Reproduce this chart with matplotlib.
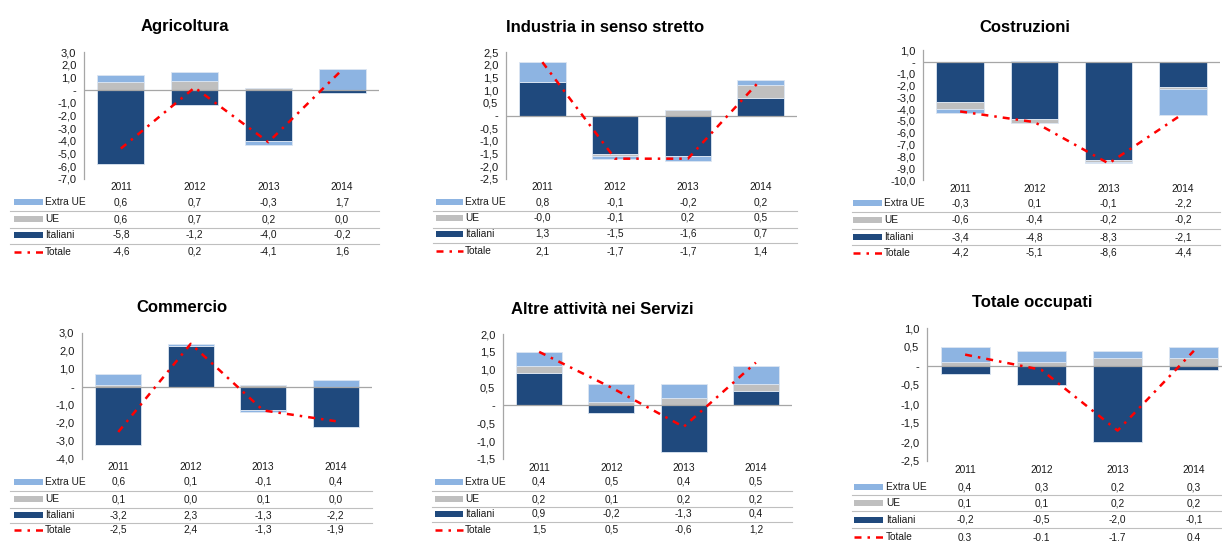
import matplotlib
matplotlib.use("Agg")
import matplotlib.pyplot as plt
from matplotlib.transforms import blended_transform_factory
from matplotlib.lines import Line2D
from matplotlib.patches import Rectangle
import numpy as np

plt.rcParams['font.family'] = ['Liberation Sans', 'DejaVu Sans']

# ---------------- data ----------------
years = ["2011", "2012", "2013", "2014"]
series_names = ["Extra UE", "UE", "Italiani", "Totale"]
titles = ["Agricoltura", "Industria in senso stretto", "Costruzioni",
          "Commercio", "Altre attività nei Servizi", "Totale occupati"]

agr_extra = [0.6, 0.7, -0.3, 1.7]
agr_ue = [0.6, 0.7, 0.2, 0.0]
agr_ita = [-5.8, -1.2, -4.0, -0.2]
agr_tot = [-4.6, 0.2, -4.1, 1.6]

ind_extra = [0.8, -0.1, -0.2, 0.2]
ind_ue = [-0.0, -0.1, 0.2, 0.5]
ind_ita = [1.3, -1.5, -1.6, 0.7]
ind_tot = [2.1, -1.7, -1.7, 1.4]

cos_extra = [-0.3, 0.1, -0.1, -2.2]
cos_ue = [-0.6, -0.4, -0.2, -0.2]
cos_ita = [-3.4, -4.8, -8.3, -2.1]
cos_tot = [-4.2, -5.1, -8.6, -4.4]

com_extra = [0.6, 0.1, -0.1, 0.4]
com_ue = [0.1, 0.0, 0.1, 0.0]
com_ita = [-3.2, 2.3, -1.3, -2.2]
com_tot = [-2.5, 2.4, -1.3, -1.9]

alt_extra = [0.4, 0.5, 0.4, 0.5]
alt_ue = [0.2, 0.1, 0.2, 0.2]
alt_ita = [0.9, -0.2, -1.3, 0.4]
alt_tot = [1.5, 0.5, -0.6, 1.2]

occ_extra = [0.4, 0.3, 0.2, 0.3]
occ_ue = [0.1, 0.1, 0.2, 0.2]
occ_ita = [-0.2, -0.5, -2.0, -0.1]
occ_tot = [0.3, -0.1, -1.7, 0.4]

# y-axis ranges (min, max, step)
y_ranges = [(-7.0, 3.0, 1.0), (-2.5, 2.5, 0.5), (-10.0, 1.0, 1.0),
            (-4.0, 3.0, 1.0), (-1.5, 2.0, 0.5), (-2.5, 1.0, 0.5)]

panels_data = [
    (agr_extra, agr_ue, agr_ita, agr_tot),
    (ind_extra, ind_ue, ind_ita, ind_tot),
    (cos_extra, cos_ue, cos_ita, cos_tot),
    (com_extra, com_ue, com_ita, com_tot),
    (alt_extra, alt_ue, alt_ita, alt_tot),
    (occ_extra, occ_ue, occ_ita, occ_tot),
]

# ---------------- layout (pixels) ----------------
W, H = 1222, 541
layouts = [
    dict(ax=(84, 379, 52, 179), title=(185, 27), years_y=187, rows=(202, 219, 235, 252),
         lines=(211, 228, 244), tleft=10, mk=(14, 43), lab=45),
    dict(ax=(506, 797, 52, 179), title=(605, 28), years_y=187, rows=(202, 218, 234, 251),
         lines=(211, 228, 243), tleft=433, mk=(436, 463), lab=465),
    dict(ax=(923, 1220, 50, 180), title=(1025, 27), years_y=189, rows=(203, 220, 237, 253),
         lines=(212, 229, 245), tleft=852, mk=(853, 882), lab=884),
    dict(ax=(82, 372, 333, 459), title=(182, 308), years_y=467, rows=(482, 499, 515, 530),
         lines=(491, 508, 523), tleft=10, mk=(14, 43), lab=45),
    dict(ax=(503, 792, 334, 459), title=(602, 310), years_y=468, rows=(482, 499, 514, 530),
         lines=(491, 507, 522), tleft=432, mk=(435, 463), lab=465),
    dict(ax=(927, 1232, 328, 461), title=(1032, 303), years_y=470, rows=(487, 503, 520, 537),
         lines=(495, 511, 528), tleft=852, mk=(854, 883), lab=886),
]

C_EXTRA = "#8DB4E2"
C_UE = "#BFBFBF"
C_ITA = "#1F497D"
C_TOT = "#FF0000"
C_GRID = "#A6A6A6"
C_TXT = "#1A1A1A"

TITLE_FS = 12
TICK_FS = 8
TAB_FS = 7.3

fig = plt.figure(figsize=(W / 100, H / 100), dpi=100)


def fx(px):
    return px / W


def fy(py):
    return 1 - py / H


def fmt(v):
    return f"{v:.1f}".replace(".", ",")


def tick_fmt(v):
    if abs(v) < 1e-9:
        return "-"
    return f"{v:.1f}".replace(".", ",")


TOT_DASH = (2.8, 2.4, 1.0, 2.4)

for i in range(6):
    lay = layouts[i]
    extra, ue, ita, tot = panels_data[i]
    ymin, ymax, step = y_ranges[i]
    l, r, t, b = lay["ax"]
    ax = fig.add_axes([fx(l), fy(b), (r - l) / W, (b - t) / H])
    x = np.arange(len(years))
    pos = np.zeros(4)
    neg = np.zeros(4)
    for vals, col in ((ita, C_ITA), (ue, C_UE), (extra, C_EXTRA)):
        v = np.array(vals, dtype=float)
        bottoms = np.where(v >= 0, pos, neg)
        ax.bar(x, v, 0.64, bottom=bottoms, color=col, edgecolor="#DCE6F2",
               linewidth=0.6, zorder=2)
        pos = pos + np.where(v >= 0, v, 0)
        neg = neg + np.where(v < 0, v, 0)
    ax.axhline(0, color=C_GRID, lw=0.9, zorder=3)
    ax.plot(x, tot, color=C_TOT, lw=1.8, dashes=TOT_DASH, zorder=4,
            dash_capstyle="butt")
    ax.set_xlim(-0.5, 3.5)
    ax.set_ylim(ymin, ymax)
    ticks = np.arange(ymin, ymax + step / 2, step)
    ax.set_yticks(ticks)
    ax.set_yticklabels([tick_fmt(v) for v in ticks], fontsize=TICK_FS, color=C_TXT)
    ax.tick_params(axis="y", length=0, pad=5.5)
    ax.set_xticks([])
    for s in ("top", "right", "bottom"):
        ax.spines[s].set_visible(False)
    ax.spines["left"].set_color(C_GRID)
    ax.spines["left"].set_linewidth(0.9)
    ax.patch.set_alpha(0)

    # title
    fig.text(fx(lay["title"][0]), fy(lay["title"][1]), titles[i], ha="center", va="center",
             fontsize=TITLE_FS, fontweight="bold", color="#000000")

    tr = blended_transform_factory(ax.transData, fig.transFigure)
    # years
    for j, yr in enumerate(years):
        fig.text(j, fy(lay["years_y"]), yr, transform=tr, ha="center", va="center",
                 fontsize=TAB_FS, color=C_TXT)
    # table rows
    rows_vals = [extra, ue, ita, tot]
    row_cols = [C_EXTRA, C_UE, C_ITA, C_TOT]
    mk0, mk1 = lay["mk"]
    for k in range(4):
        ry = lay["rows"][k]
        for j in range(4):
            fig.text(j, fy(ry), fmt(rows_vals[k][j]), transform=tr, ha="center",
                     va="center", fontsize=TAB_FS, color=C_TXT)
        fig.text(fx(lay["lab"]), fy(ry), series_names[k], ha="left", va="center",
                 fontsize=TAB_FS, color=C_TXT)
        if k < 3:
            fig.patches.append(Rectangle((fx(mk0), fy(ry + 3)), (mk1 - mk0) / W, 6 / H,
                                         transform=fig.transFigure, facecolor=row_cols[k],
                                         edgecolor="none"))
        else:
            fig.lines.append(Line2D([fx(mk0), fx(mk1)], [fy(ry), fy(ry)],
                                    transform=fig.transFigure, color=C_TOT, lw=1.8,
                                    dashes=TOT_DASH, dash_capstyle="butt"))
    for ly in lay["lines"]:
        fig.lines.append(Line2D([fx(lay["tleft"]), fx(r)], [fy(ly), fy(ly)],
                                transform=fig.transFigure, color="#BFBFBF", lw=0.8))

fig.savefig("out.png", dpi=100)
